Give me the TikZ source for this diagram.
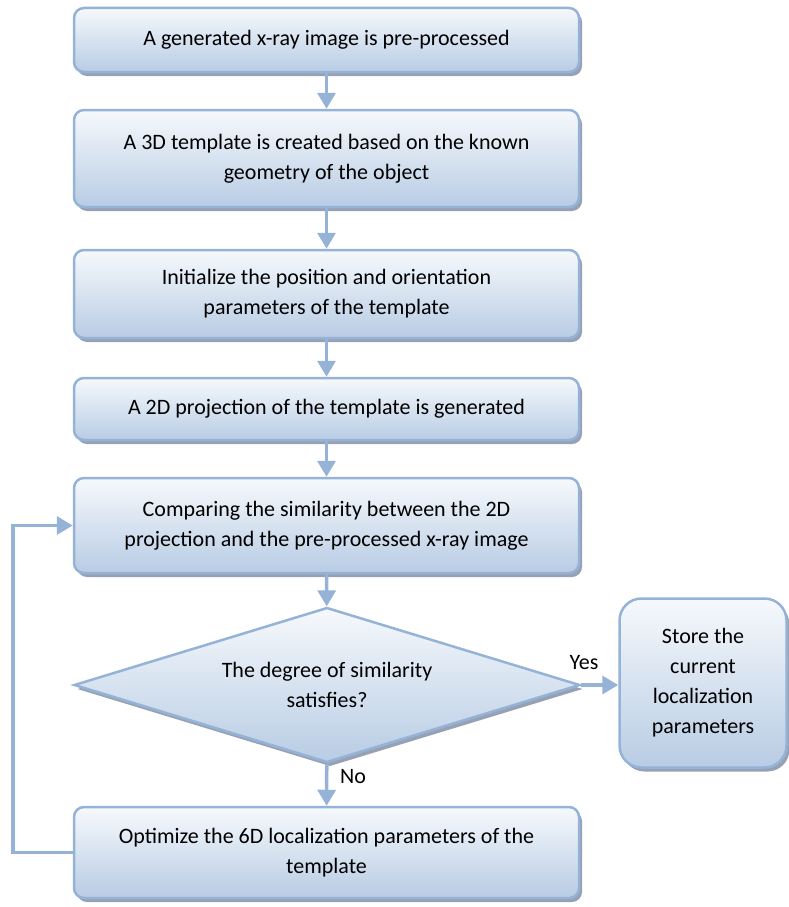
\documentclass[tikz,border=0pt]{standalone}
\usepackage{fontspec}
\setmainfont{Carlito}
\usetikzlibrary{shapes.geometric,arrows.meta,shadows}
\definecolor{edgec}{HTML}{95B3D7}
\definecolor{topc}{HTML}{F6F9FC}
\definecolor{botc}{HTML}{B8CCE4}
\definecolor{shadc}{HTML}{8C97AB}
\tikzset{
 txt/.style={font=\fontsize{22}{30}\selectfont},
 shade/.style={top color=topc, bottom color=botc, drop shadow={shadow xshift=3pt, shadow yshift=-4pt, fill=shadc, opacity=0.9}},
 flowbox/.style={shade, draw=edgec, line width=2.5pt, rounded corners=10pt, minimum width=505pt, align=center, txt, inner sep=0pt},
 decision/.style={shade, diamond, draw=edgec, line width=2.5pt, aspect=3.2, minimum width=506pt, minimum height=155pt, inner sep=0pt, align=center, txt},
 flowarrow/.style={draw=edgec, line width=3.5pt, -{Triangle[length=16pt,width=18pt]}}
}
\begin{document}
\begin{tikzpicture}[x=1pt,y=-1pt]
\useasboundingbox (0,0) rectangle (789,907);
\node[flowbox, minimum height=64pt] (b1) at (326.5,40) {A generated x-ray image is pre-processed};
\node[flowbox, minimum height=97pt] (b2) at (326.5,158.5) {A 3D template is created based on the known\\geometry of the object};
\node[flowbox, minimum height=88pt] (b3) at (326.5,294) {Initialize the position and orientation\\parameters of the template};
\node[flowbox, minimum height=62pt] (b4) at (326.5,409) {A 2D projection of the template is generated};
\node[flowbox, minimum height=95pt] (b5) at (326.5,525.5) {Comparing the similarity between the 2D\\projection and the pre-processed x-ray image};
\node[decision] (d) at (327,685) {The degree of similarity\\satisfies?};
\node[flowbox, minimum height=91pt] (b6) at (326.5,852.5) {Optimize the 6D localization parameters of the\\template};
\node[flowbox, rounded corners=22pt, minimum width=167pt, minimum height=169pt] (st) at (703,683) {Store the\\current\\localization\\parameters};
\draw[flowarrow] (b1) -- (b2);
\draw[flowarrow] (b2) -- (b3);
\draw[flowarrow] (b3) -- (b4);
\draw[flowarrow] (b4) -- (b5);
\draw[flowarrow] (b5) -- (d);
\draw[flowarrow] (d) -- (b6);
\draw[flowarrow] (d.east) -- (d.east -| st.west);
\draw[flowarrow] (b6.west) -- ++(-60,0) |- (b5.west);
\node[txt] (yes) at (584,663) {Yes};
\node[txt] (no) at (353,777) {No};
\end{tikzpicture}
\end{document}
